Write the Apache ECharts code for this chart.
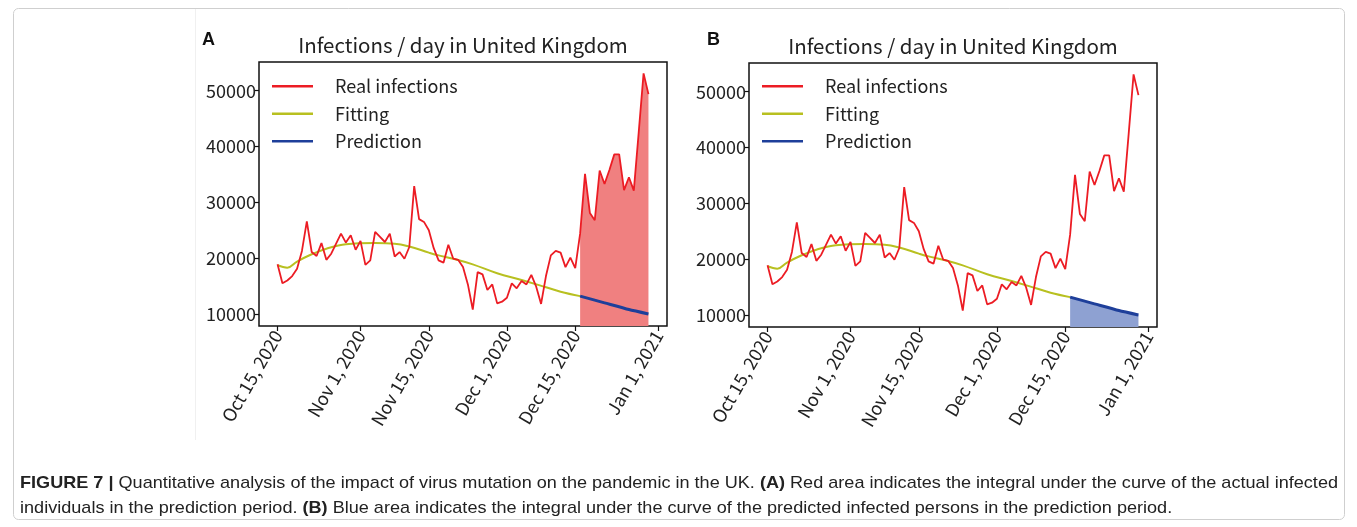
<!DOCTYPE html>
<html>
<head>
<meta charset="utf-8">
<script src="https://cdn.jsdelivr.net/npm/echarts@6/dist/echarts.min.js"></script>
<style>
html, body { margin: 0; padding: 0; background: #fff; }
#main { width: 1357px; height: 527px; }
</style>
</head>
<body>
<div id="main"></div>
<script>
// daily infections, index 0 = Oct 15 2020 ... index 76 = Dec 30 2020
var realVals = [
  18900, 15500, 16000, 16800, 18100, 21300, 26600, 21100, 20400, 22700,
  19700, 20800, 22600, 24400, 22800, 24100, 21500, 23100, 18800, 19600,
  24700, 23800, 22900, 24400, 20300, 21100, 19900, 22000, 32900, 27000,
  26500, 25000, 21800, 19600, 19200, 22400, 19900, 19700, 18400, 15300,
  10800, 17500, 17100, 14300, 15300, 11900, 12200, 12900, 15500, 14600,
  15900, 15300, 17000, 14900, 11800, 16800, 20500, 21300, 21000, 18400,
  20100, 18200, 24400, 35100, 28100, 26800, 35700, 33300, 35800, 38600,
  38600, 32200, 34500, 32100, 42500, 53100, 49400
];
// fitted curve read at a few days
var fitDays = [0, 2, 4, 7, 10, 14, 20, 24, 27, 31, 33, 36, 40, 45, 50, 55, 58, 62];
var fitVals = [18750, 18300, 19400, 20700, 21700, 22500, 22700, 22600, 22100, 21000,
  20500, 19900, 18900, 17300, 16100, 14800, 14000, 13200];
// prediction period
var predDays = [62, 67, 72, 76];
var predVals = [13200, 12000, 10800, 10000];
var predStart = 62;

var tickDays = [0, 17, 31, 47, 61, 78];
var tickLabels = ['Oct 15, 2020', 'Nov 1, 2020', 'Nov 15, 2020', 'Dec 1, 2020', 'Dec 15, 2020', 'Jan 1, 2021'];
var yTicks = [10000, 20000, 30000, 40000, 50000];

var FONT = '"Noto Sans CJK SC", "Noto Sans", sans-serif';
var CAP_FONT = '"Liberation Sans", Arial, sans-serif';
var chart = echarts.init(document.getElementById('main'));

function pairs(xs, ys) {
  return ys.map(function (v, i) { return [xs[i], v]; });
}
var realData = realVals.map(function (v, i) { return [i, v]; });
var fitData = pairs(fitDays, fitVals);
var predData = pairs(predDays, predVals);
var realTail = realData.slice(predStart);

var grids = [
  { left: 259, top: 62, width: 408, height: 264 },
  { left: 749, top: 63, width: 408, height: 264 }
];

var xAxes = [], yAxes = [], series = [], legends = [];
grids.forEach(function (g, k) {
  g.show = true;
  g.borderColor = '#111';
  g.borderWidth = 1.5;
  g.backgroundColor = '#fff';
  xAxes.push({
    type: 'value', gridIndex: k, min: -3.8, max: 79.8,
    axisLine: { show: false, onZero: false },
    splitLine: { show: false },
    axisTick: { show: true, length: 5, customValues: tickDays, lineStyle: { color: '#111', width: 1.2 } },
    axisLabel: {
      customValues: tickDays, rotate: 60, margin: 6,
      fontFamily: FONT, fontSize: 18, color: '#222',
      formatter: function (v) { return tickLabels[tickDays.indexOf(v)]; }
    }
  });
  yAxes.push({
    type: 'value', gridIndex: k, min: 7850, max: 55150,
    axisLine: { show: false, onZero: false },
    splitLine: { show: false },
    axisTick: { show: true, length: 5, customValues: yTicks, lineStyle: { color: '#111', width: 1.2 } },
    axisLabel: {
      customValues: yTicks, margin: 3, fontFamily: FONT, fontSize: 18, color: '#222',
      formatter: function (v) { return String(v); }
    }
  });
  legends.push({
    orient: 'vertical', left: grids[k].left + 8, top: 71,
    icon: 'rect', itemWidth: 41, itemHeight: 2.5, itemGap: 7,
    textStyle: { fontFamily: FONT, fontSize: 18, color: '#222', lineHeight: 20.5, padding: [0, 0, 0, 17] },
    data: ['Real infections', 'Fitting', 'Prediction']
  });
  if (k === 0) {
    series.push({
      name: 'fillA', type: 'line', xAxisIndex: 0, yAxisIndex: 0, data: realTail,
      showSymbol: false, lineStyle: { width: 0 }, areaStyle: { color: '#f08080', opacity: 1, origin: 'start' },
      z: 1, silent: true
    });
  } else {
    series.push({
      name: 'fillB', type: 'line', xAxisIndex: 1, yAxisIndex: 1, data: predData, smooth: 0.2,
      showSymbol: false, lineStyle: { width: 0 }, areaStyle: { color: '#8ea1d2', opacity: 1, origin: 'start' },
      z: 1, silent: true
    });
  }
  series.push({
    name: 'Real infections', type: 'line', xAxisIndex: k, yAxisIndex: k, data: realData,
    showSymbol: false, itemStyle: { color: '#ec1c24' }, lineStyle: { color: '#ec1c24', width: 1.8 }, z: 3
  });
  series.push({
    name: 'Fitting', type: 'line', xAxisIndex: k, yAxisIndex: k, data: fitData, smooth: 0.4,
    showSymbol: false, itemStyle: { color: '#b8c020' }, lineStyle: { color: '#b8c020', width: 2 }, z: 2
  });
  series.push({
    name: 'Prediction', type: 'line', xAxisIndex: k, yAxisIndex: k, data: predData, smooth: 0.2,
    showSymbol: false, itemStyle: { color: '#1e3f9a' }, lineStyle: { color: '#1e3f9a', width: 3 }, z: 2
  });
});

// caption: stretched to the width of the first line in the figure
var cap1 = [['b', 'FIGURE 7 |'], ['r', ' Quantitative analysis of the impact of virus mutation on the pandemic in the UK. '],
  ['b', '(A)'], ['r', ' Red area indicates the integral under the curve of the actual infected']];
var cap2 = [['r', 'individuals in the prediction period. '], ['b', '(B)'],
  ['r', ' Blue area indicates the integral under the curve of the predicted infected persons in the prediction period.']];
var CAP_SIZE = 17;
var ctx = document.createElement('canvas').getContext('2d');
function capWidth(parts) {
  var w = 0;
  parts.forEach(function (p) {
    ctx.font = (p[0] === 'b' ? 'bold ' : '') + CAP_SIZE + 'px ' + CAP_FONT;
    w += ctx.measureText(p[1]).width;
  });
  return w;
}
function capText(parts) {
  return parts.map(function (p) { return p[0] === 'b' ? '{b|' + p[1] + '}' : p[1]; }).join('');
}
var capScale = 1318 / capWidth(cap1);
function capLine(parts, y) {
  return {
    type: 'text', x: 20, y: y, scaleX: capScale,
    style: {
      text: capText(parts), fontFamily: CAP_FONT, fontSize: CAP_SIZE, fill: '#222', verticalAlign: 'middle',
      rich: { b: { fontWeight: 'bold', fontFamily: CAP_FONT, fontSize: CAP_SIZE, fill: '#222' } }
    }
  };
}

var titleText = 'Infections / day in United Kingdom';
chart.setOption({
  animation: false,
  grid: grids,
  xAxis: xAxes,
  yAxis: yAxes,
  legend: legends,
  series: series,
  graphic: [
    { type: 'rect', shape: { x: 13.5, y: 8.5, width: 1331, height: 511, r: 5 },
      style: { fill: 'none', stroke: '#cfcfcf', lineWidth: 1 }, z: -10 },
    { type: 'line', shape: { x1: 195.5, y1: 9, x2: 195.5, y2: 440 },
      style: { stroke: '#f0f0f0', lineWidth: 1 }, z: -10 },
    { type: 'text', x: 463, y: 45, style: { text: titleText, fontFamily: FONT, fontSize: 20.5, fill: '#222', align: 'center', verticalAlign: 'middle' } },
    { type: 'text', x: 953, y: 46, style: { text: titleText, fontFamily: FONT, fontSize: 20.5, fill: '#222', align: 'center', verticalAlign: 'middle' } },
    { type: 'text', x: 202, y: 40, style: { text: 'A', fontFamily: CAP_FONT, fontWeight: 'bold', fontSize: 18, fill: '#111', verticalAlign: 'middle' } },
    { type: 'text', x: 707, y: 40, style: { text: 'B', fontFamily: CAP_FONT, fontWeight: 'bold', fontSize: 18, fill: '#111', verticalAlign: 'middle' } },
    capLine(cap1, 483),
    capLine(cap2, 508)
  ]
});
</script>
</body>
</html>
